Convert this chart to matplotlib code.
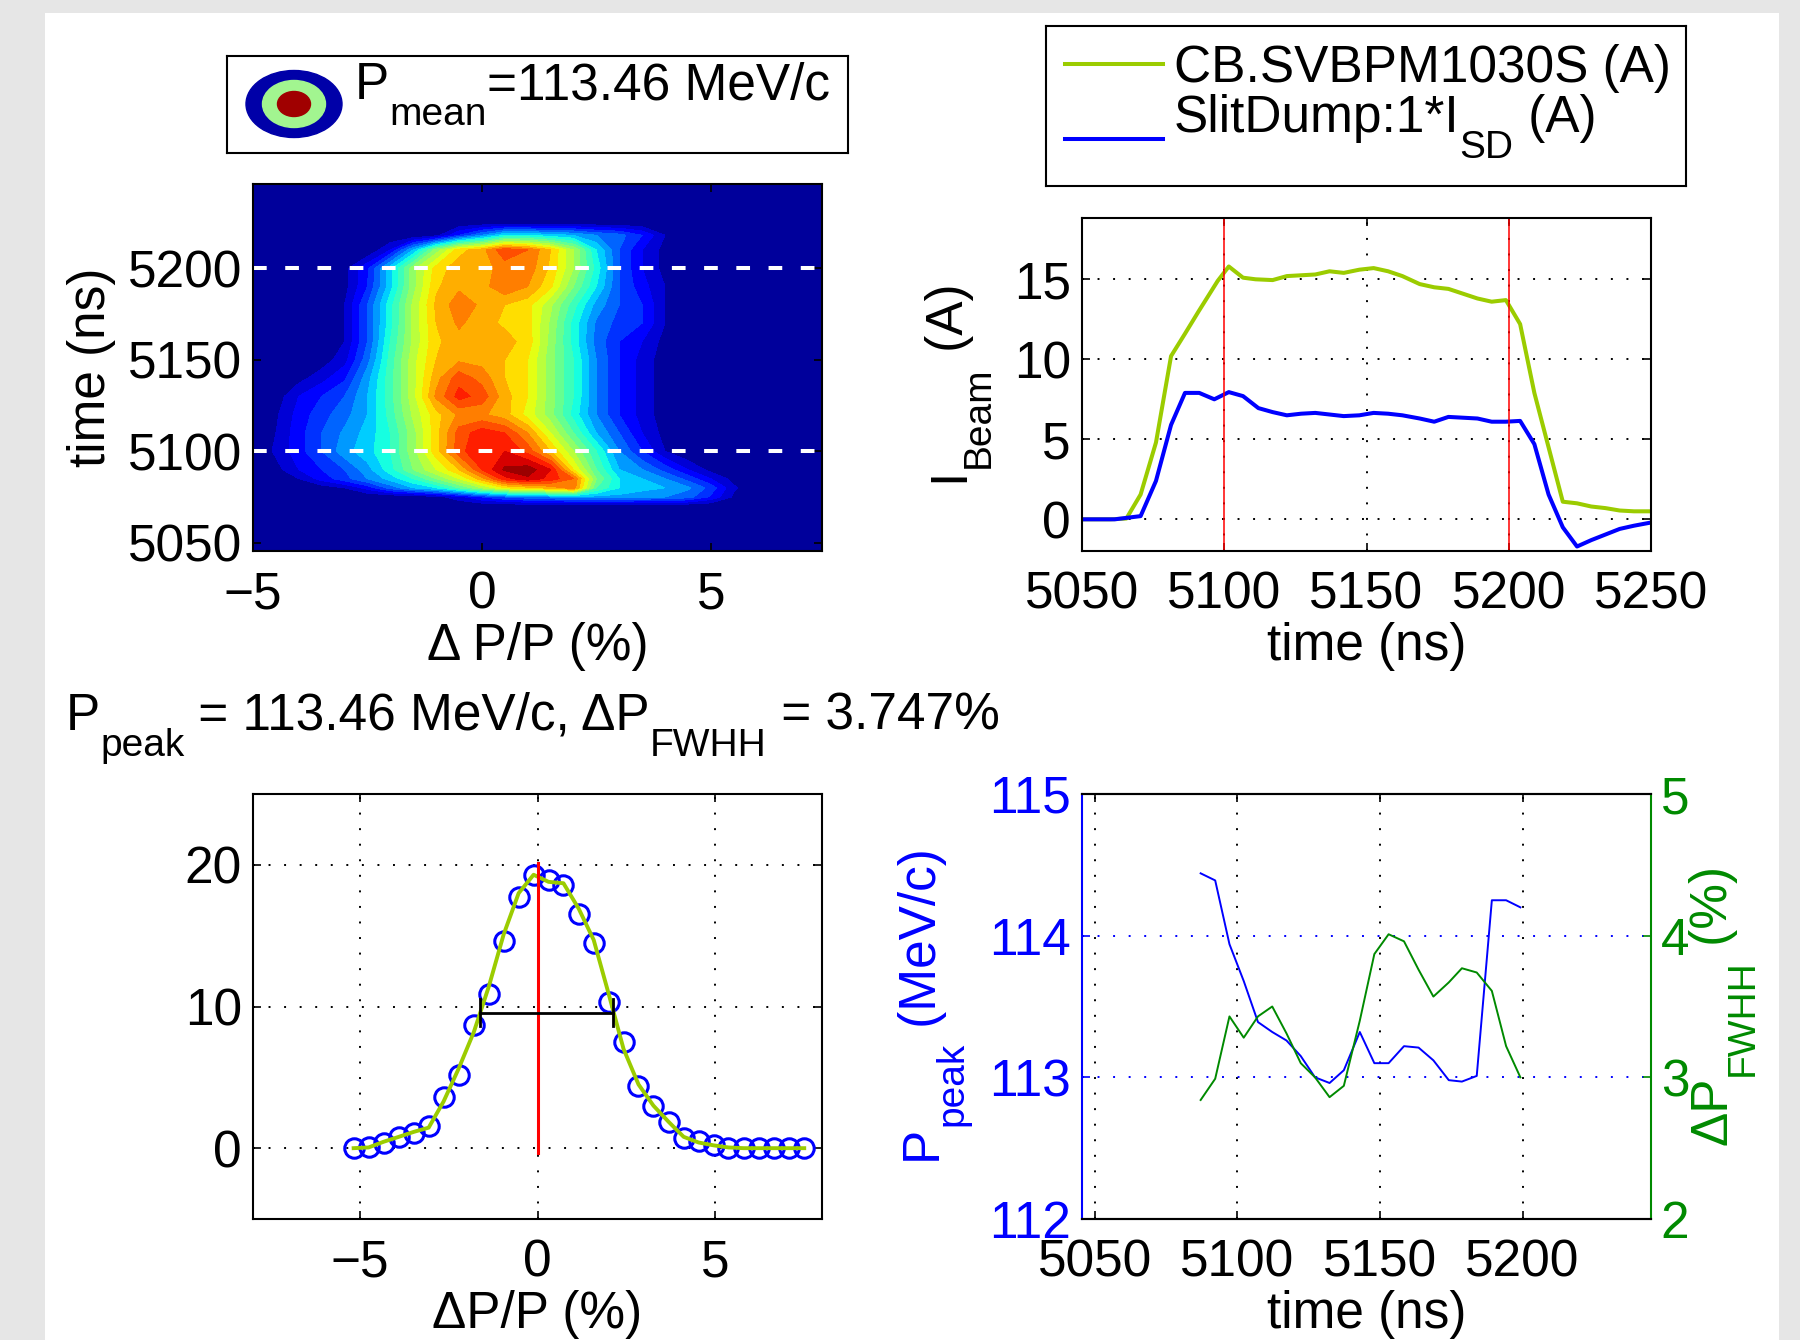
import numpy as np
import matplotlib
matplotlib.use('Agg')
import matplotlib.pyplot as plt
from matplotlib.patches import Rectangle, Ellipse

plt.rcParams['font.family'] = ['Liberation Sans', 'DejaVu Sans']
plt.rcParams['font.size'] = 37

# ---- momentum / time map (arbitrary units) ----
map_dp = [-5.0, -4.5, -4.0, -3.5, -3.0, -2.5, -2.0, -1.5, -1.0, -0.5, 0.0, 0.5, 1.0,
          1.5, 2.0, 2.5, 3.0, 3.5, 4.0, 4.5, 5.0, 5.5, 6.0, 6.5, 7.0, 7.5]
map_t = [5040, 5050, 5060, 5070, 5075, 5080, 5085, 5090, 5100, 5110, 5120, 5130,
         5140, 5150, 5160, 5170, 5180, 5190, 5200, 5210, 5218, 5225, 5240, 5250]
zero_row = [0] * 26
map_counts = [
    zero_row,
    zero_row,
    zero_row,
    zero_row,
    [0, 0, 0, 0, 0, 0, 0, 0, 0.3, 0.8, 1.5, 2.0, 2.3, 2.5, 2.8, 2.8, 2.8, 2.6, 2.5, 2.2, 1.4, 0.4, 0, 0, 0, 0],
    [0, 0, 0, 0.2, 0.5, 1.2, 2.2, 3.0, 3.5, 4.5, 5.5, 6.5, 6.8, 7.2, 7.8, 4.5, 3.5, 3.2, 3.0, 2.6, 1.8, 0.6, 0, 0, 0, 0],
    [0, 0, 0.5, 1.2, 1.8, 2.5, 3.2, 4.0, 5.0, 6.0, 7.3, 8.8, 9.4, 8.8, 8.0, 5.0, 3.5, 3.0, 2.5, 1.8, 1.0, 0.3, 0, 0, 0, 0],
    [0, 0.3, 1.0, 1.5, 2.0, 2.8, 3.8, 5.0, 6.0, 7.0, 8.5, 9.6, 9.8, 9.0, 6.5, 4.5, 3.0, 2.5, 1.8, 1.0, 0.3, 0, 0, 0, 0, 0],
    [0, 0.6, 1.3, 2.0, 2.8, 3.3, 4.0, 5.3, 6.8, 8.3, 9.0, 9.0, 8.3, 7.0, 5.5, 4.0, 2.5, 1.5, 0.5, 0, 0, 0, 0, 0, 0, 0],
    [0, 0.5, 1.3, 2.0, 2.6, 3.2, 4.0, 5.3, 6.8, 8.2, 8.8, 8.5, 7.5, 6.0, 4.5, 3.0, 2.0, 1.0, 0.3, 0, 0, 0, 0, 0, 0, 0],
    [0, 0.4, 1.2, 1.8, 2.3, 3.0, 4.2, 5.6, 6.8, 7.6, 7.6, 7.2, 6.3, 5.2, 3.8, 2.5, 1.5, 0.8, 0.2, 0, 0, 0, 0, 0, 0, 0],
    [0, 0.2, 1.0, 1.5, 2.0, 3.0, 4.3, 5.8, 7.6, 8.7, 8.3, 7.2, 6.5, 5.2, 4.0, 2.5, 1.5, 0.8, 0.2, 0, 0, 0, 0, 0, 0, 0],
    [0, 0, 0.3, 0.8, 1.4, 2.8, 4.3, 5.8, 7.3, 8.3, 7.8, 7.0, 6.5, 5.2, 4.0, 2.5, 1.5, 0.8, 0.2, 0, 0, 0, 0, 0, 0, 0],
    [0, 0, 0, 0.2, 0.8, 2.3, 4.2, 5.8, 7.0, 7.4, 7.3, 7.0, 6.5, 5.2, 4.0, 2.5, 1.5, 0.8, 0.2, 0, 0, 0, 0, 0, 0, 0],
    [0, 0, 0, 0, 0.5, 2.0, 4.0, 5.6, 6.9, 7.3, 7.3, 7.2, 6.8, 5.3, 3.8, 2.3, 1.5, 1.0, 0.3, 0, 0, 0, 0, 0, 0, 0],
    [0, 0, 0, 0, 0.5, 2.0, 3.8, 5.6, 7.0, 7.6, 7.2, 6.9, 6.7, 5.4, 3.8, 2.4, 1.8, 1.5, 0.5, 0, 0, 0, 0, 0, 0, 0],
    [0, 0, 0, 0, 0.5, 2.0, 3.8, 5.6, 7.1, 7.8, 7.4, 7.0, 6.7, 5.6, 4.2, 2.8, 2.0, 1.5, 0.5, 0, 0, 0, 0, 0, 0, 0],
    [0, 0, 0, 0, 0.3, 1.5, 3.3, 5.3, 6.9, 7.4, 7.3, 7.9, 7.5, 6.6, 5.0, 3.5, 2.0, 1.2, 0.5, 0, 0, 0, 0, 0, 0, 0],
    [0, 0, 0, 0, 0.3, 1.4, 3.3, 5.3, 6.7, 7.3, 7.3, 7.7, 7.8, 6.9, 5.5, 3.8, 2.0, 1.0, 0.3, 0, 0, 0, 0, 0, 0, 0],
    [0, 0, 0, 0, 0, 0, 1.0, 3.0, 5.2, 6.8, 7.3, 8.4, 8.0, 7.0, 5.5, 3.5, 2.0, 1.0, 0.3, 0, 0, 0, 0, 0, 0, 0],
    [0, 0, 0, 0, 0, 0, 0, 0, 0.3, 1.5, 2.5, 3.5, 3.5, 3.2, 3.0, 2.5, 2.2, 1.5, 0.5, 0, 0, 0, 0, 0, 0, 0],
    zero_row,
    zero_row,
    zero_row,
]
window_t = [5100, 5200]

# ---- beam current traces ----
cb_t = [5050, 5060, 5065.6, 5070.6, 5076, 5081.3, 5086.2, 5091, 5097.7, 5101.6, 5106.6,
        5111, 5117, 5122, 5127, 5132, 5137, 5142, 5147.5, 5152.5, 5157.6, 5162.6, 5168.7,
        5173.8, 5178.8, 5183.9, 5189, 5194, 5199, 5204, 5209, 5214, 5219, 5224, 5229,
        5234, 5239, 5244, 5250]
cb_i = [0, 0, 0.05, 1.55, 4.8, 10.2, 11.6, 13.0, 14.9, 15.8, 15.1, 15.0, 14.95, 15.2,
        15.25, 15.3, 15.5, 15.4, 15.6, 15.7, 15.5, 15.2, 14.7, 14.5, 14.4, 14.1, 13.8,
        13.6, 13.7, 12.2, 7.9, 4.5, 1.1, 1.0, 0.8, 0.7, 0.55, 0.5, 0.5]
sd_t = [5050, 5061.5, 5070.6, 5076, 5081.3, 5086.2, 5091.2, 5096.5, 5101.6, 5106.6, 5112,
        5117, 5122, 5127, 5132, 5137, 5142, 5147.5, 5152.5, 5157.6, 5162.6, 5168.7, 5173.8,
        5178.8, 5183.9, 5189, 5194, 5199, 5204, 5209, 5214, 5219, 5224, 5229, 5234, 5239,
        5244, 5250]
sd_i = [0, 0, 0.2, 2.4, 5.9, 7.9, 7.9, 7.5, 7.95, 7.7, 6.95, 6.7, 6.5, 6.6, 6.65, 6.55,
        6.45, 6.5, 6.65, 6.6, 6.5, 6.3, 6.1, 6.4, 6.35, 6.3, 6.1, 6.1, 6.15, 4.7, 1.55,
        -0.5, -1.7, -1.3, -0.95, -0.6, -0.4, -0.2]

# ---- momentum spectrum ----
spec_dp = [-5.17, -4.75, -4.33, -3.90, -3.48, -3.06, -2.64, -2.22, -1.79, -1.37, -0.95,
           -0.53, -0.11, 0.31, 0.73, 1.16, 1.58, 2.00, 2.42, 2.84, 3.26, 3.69, 4.11, 4.53,
           4.95, 5.37, 5.80, 6.22, 6.64, 7.06, 7.50]
spec_counts = [0, 0.05, 0.35, 0.8, 1.1, 1.55, 3.6, 5.2, 8.7, 10.9, 14.6, 17.7, 19.3,
               18.9, 18.6, 16.5, 14.5, 10.3, 7.5, 4.4, 3.0, 1.85, 0.7, 0.5, 0.2, 0, 0,
               0, 0, 0, 0]
spec_fit = [0, 0.05, 0.45, 0.8, 1.15, 1.45, 3.3, 5.6, 8.2, 11.4, 15.1, 18.0, 19.3, 18.8,
            18.7, 16.9, 14.7, 10.9, 7.0, 4.5, 3.0, 1.85, 0.8, 0.4, 0.2, 0.05, 0, 0, 0,
            0, 0]
peak_dp = 0.0
peak_line_y = [-0.35, 20.1]
fwhh_left, fwhh_right, fwhh_y = -1.63, 2.12, 9.55

# ---- peak momentum and width versus time ----
scan_t = [5087.1, 5092.2, 5097.2, 5102.2, 5107.2, 5112.2, 5117.2, 5122.2, 5127.2, 5132.3,
          5137.3, 5142.9, 5148, 5153, 5158.4, 5163.5, 5168.7, 5174.1, 5178.7, 5183.9,
          5189.2, 5194.2, 5199.2]
scan_ppeak = [114.44, 114.39, 113.94, 113.68, 113.39, 113.32, 113.26, 113.15, 113.0,
              112.96, 113.05, 113.32, 113.1, 113.1, 113.22, 113.21, 113.12, 112.98,
              112.97, 113.01, 114.25, 114.25, 114.2]
scan_fwhh = [2.84, 2.99, 3.43, 3.28, 3.43, 3.50, 3.31, 3.10, 3.0, 2.86, 2.94, 3.4, 3.87,
             4.01, 3.96, 3.76, 3.57, 3.67, 3.77, 3.74, 3.61, 3.22, 3.0]

W, H = 1800, 1340
yg = '#9bcc00'
dg = '#008a00'
blue = '#0000ff'
dots = (0, (1, 7))

fig = plt.figure(figsize=(W / 100, H / 100), dpi=100, facecolor='#e6e6e6')
fig.add_artist(Rectangle((45 / W, 0), (1779 - 45) / W, (H - 13) / H,
                         transform=fig.transFigure, facecolor='white',
                         edgecolor='none', zorder=-10))
renderer = fig.canvas.get_renderer()


def box(x0, y0, x1, y1):
    return fig.add_axes([x0 / W, 1 - y1 / H, (x1 - x0) / W, (y1 - y0) / H])


def frame(ax, lw=1.5):
    for s in ax.spines.values():
        s.set_linewidth(lw)


def rich(x, y, parts, rot=0, color='k'):
    # matlab-like subscripts: pieces laid out one after the other
    # x, y are pixels from the top-left corner, at the baseline start
    for s, sub in parts:
        fs = 28 if sub else 37
        d = 26 if sub else 0
        if rot == 0:
            t = fig.text(x / W, 1 - (y + d) / H, s, fontsize=fs, color=color,
                         ha='left', va='baseline')
            x += t.get_window_extent(renderer).width
        else:
            t = fig.text((x + d) / W, 1 - y / H, s, fontsize=fs, color=color,
                         rotation=90, rotation_mode='anchor', ha='left', va='baseline')
            y -= t.get_window_extent(renderer).height


# top left: contour map
ax1 = box(253, 184, 822, 551)
ax1.set_facecolor(plt.cm.jet(0.025))
ax1.contourf(map_dp, map_t, map_counts, levels=np.linspace(0, 10, 21), cmap='jet')
for t in window_t:
    ax1.axhline(t, color='white', lw=2.9, dashes=(3.4, 4.6))
ax1.set_xlim(-5, 7.43)
ax1.set_ylim(5045.5, 5246)
ax1.set_xticks([-5, 0, 5])
ax1.set_yticks([5050, 5100, 5150, 5200])
ax1.tick_params(direction='in', top=True, right=True, length=6, width=1.2, pad=8)
ax1.tick_params(axis='x', pad=14)
ax1.set_xlabel('Δ P/P (%)', labelpad=2)
ax1.set_ylabel('time (ns)', labelpad=8)
frame(ax1)

leg1 = box(227, 56, 848, 153)
leg1.set_xlim(0, 621)
leg1.set_ylim(97, 0)
leg1.set_xticks([])
leg1.set_yticks([])
frame(leg1)
leg1.add_patch(Ellipse((67, 48), 96, 67, color='#0000a8'))
leg1.add_patch(Ellipse((67, 48), 63, 47, color='#a2f590'))
leg1.add_patch(Ellipse((67, 48), 33, 25, color='#a00000'))
rich(355, 99, [('P', False), ('mean', True), ('=113.46 MeV/c', False)])

# top right: beam currents
ax2 = box(1082, 218, 1651, 551)
ax2.plot(cb_t, cb_i, color=yg, lw=2.9)
ax2.plot(sd_t, sd_i, color=blue, lw=2.9)
for t in window_t:
    ax2.axvline(t, color='red', lw=1.1)
ax2.set_xlim(5050, 5250)
ax2.set_ylim(-1.98, 18.83)
ax2.set_xticks([5050, 5100, 5150, 5200, 5250])
ax2.set_yticks([0, 5, 10, 15])
ax2.grid(True, color='k', lw=1.4, ls=dots)
ax2.tick_params(direction='in', top=True, right=True, length=6, width=1.2, pad=8)
ax2.tick_params(axis='x', pad=14)
ax2.set_xlabel('time (ns)', labelpad=2)
frame(ax2)
rich(963, 482, [('I', False), ('Beam', True), (' (A)', False)], rot=90)

leg2 = box(1046, 26, 1686, 186)
leg2.set_xlim(0, 640)
leg2.set_ylim(160, 0)
leg2.set_xticks([])
leg2.set_yticks([])
frame(leg2)
leg2.plot([19, 117], [38, 38], color=yg, lw=2.9)
leg2.plot([19, 117], [113, 113], color=blue, lw=2.9)
rich(1174, 82, [('CB.SVBPM1030S (A)', False)])
rich(1174, 132, [('SlitDump:1*I', False), ('SD', True), (' (A)', False)])

# bottom left: momentum spectrum
ax3 = box(253, 794, 822, 1219)
ax3.plot(spec_dp, spec_counts, 'o', ms=14, mfc='none', mec=blue, mew=2.2)
ax3.plot(spec_dp, spec_fit, color=yg, lw=2.8)
ax3.plot([peak_dp, peak_dp], peak_line_y, color='red', lw=2.2)
ax3.plot([fwhh_left, fwhh_right], [fwhh_y, fwhh_y], color='k', lw=2)
for xe in (fwhh_left, fwhh_right):
    ax3.plot([xe, xe], [fwhh_y - 0.95, fwhh_y + 0.95], color='k', lw=2)
ax3.set_xlim(-8, 8)
ax3.set_ylim(-5, 25)
ax3.set_xticks([-5, 0, 5])
ax3.set_yticks([0, 10, 20])
ax3.grid(True, color='k', lw=1.4, ls=dots)
ax3.tick_params(direction='in', top=True, right=True, length=6, width=1.2, pad=8)
ax3.tick_params(axis='x', pad=14)
ax3.set_xlabel('ΔP/P (%)', labelpad=2)
frame(ax3)
rich(66, 730, [('P', False), ('peak', True), (' = 113.46 MeV/c, ΔP', False),
               ('FWHH', True), (' = 3.747%', False)])

# bottom right: peak momentum and FWHH vs time
ax4 = box(1082, 794, 1651, 1219)
ax4.plot(scan_t, scan_ppeak, color=blue, lw=1.4)
ax4.set_xlim(5045.5, 5245)
ax4.set_ylim(112, 115)
ax4.set_xticks([5050, 5100, 5150, 5200])
ax4.set_yticks([112, 113, 114, 115])
ax4.xaxis.grid(True, color='k', lw=1.4, ls=dots)
ax4.yaxis.grid(True, color=blue, lw=1.4, ls=dots)
ax4.tick_params(axis='x', direction='in', top=True, length=6, width=1.2, pad=14)
ax4.tick_params(axis='y', direction='in', colors=blue, length=6, width=1.2, pad=8)
ax4.set_xlabel('time (ns)', labelpad=2)
frame(ax4)
ax4.spines['left'].set_color(blue)
ax4.spines['right'].set_visible(False)
rich(936, 1160, [('P', False), ('peak', True), (' (MeV/c)', False)], rot=90, color=blue)

ax4r = ax4.twinx()
ax4r.plot(scan_t, scan_fwhh, color=dg, lw=1.4)
ax4r.set_ylim(2, 5)
ax4r.set_yticks([2, 3, 4, 5])
ax4r.tick_params(axis='y', direction='in', colors=dg, length=6, width=1.2, pad=7)
frame(ax4r)
ax4r.spines['right'].set_color(dg)
ax4r.spines['left'].set_visible(False)
rich(1727, 1145, [('ΔP', False), ('FWHH', True), (' (%)', False)], rot=90, color=dg)

fig.savefig('out.png', dpi=100, facecolor=fig.get_facecolor())
